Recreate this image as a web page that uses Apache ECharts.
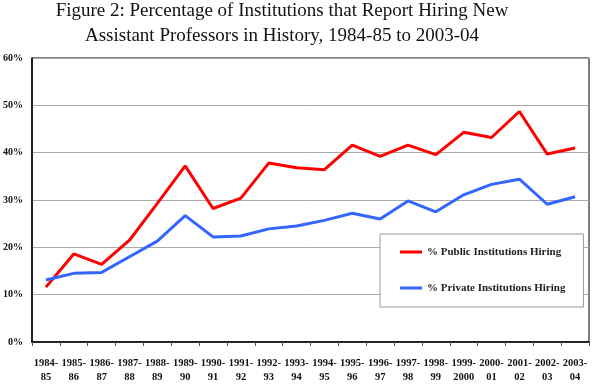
<!DOCTYPE html>
<html><head><meta charset="utf-8">
<script src="https://cdn.jsdelivr.net/npm/echarts@6/dist/echarts.min.js"></script>
<style>html,body{margin:0;padding:0;background:#fff}#c{width:600px;height:392px}</style>
</head><body><div id="c"></div>
<script>
const categories = ['1984-\n85','1985-\n86','1986-\n87','1987-\n88','1988-\n89','1989-\n90','1990-\n91','1991-\n92','1992-\n93','1993-\n94','1994-\n95','1995-\n96','1996-\n97','1997-\n98','1998-\n99','1999-\n2000','2000-\n01','2001-\n02','2002-\n03','2003-\n04'];
const publicHiring = [11.6,18.6,16.4,21.5,29.3,37.2,28.2,30.4,37.8,36.8,36.4,41.6,39.2,41.6,39.6,44.3,43.2,48.7,39.7,41.0];
const privateHiring = [13.1,14.5,14.7,18.0,21.3,26.7,22.2,22.4,23.9,24.5,25.7,27.2,26.0,29.8,27.5,31.1,33.3,34.4,29.1,30.7];
const seriesNames = ['% Public Institutions Hiring','% Private Institutions Hiring'];
const titleLines = 'Figure 2: Percentage of Institutions that Report Hiring New\nAssistant Professors in History, 1984-85 to 2003-04';

const serif = '"Liberation Serif","DejaVu Serif",serif';
const chart = echarts.init(document.getElementById('c'));
chart.setOption({
  animation:false,
  backgroundColor:'#fff',
  title:{text:titleLines,left:282,top:-1,padding:0,textAlign:'center',
    textStyle:{fontFamily:serif,fontSize:19,fontWeight:'normal',color:'#111',lineHeight:25}},
  grid:{left:32,right:11,top:58,bottom:50,show:true,borderColor:'#000',borderWidth:1,containLabel:false},
  legend:{orient:'vertical',left:380,top:234,padding:[11,18,12,20],itemGap:22,
    backgroundColor:'#fff',borderColor:'#999',borderWidth:1,
    icon:'rect',itemWidth:22,itemHeight:3,
    textStyle:{fontFamily:serif,fontSize:11,fontWeight:'bold',color:'#222',lineHeight:14},
    data:seriesNames},
  xAxis:{type:'category',data:categories,boundaryGap:true,
    axisLine:{lineStyle:{color:'#000',width:1.5}},
    axisTick:{show:true,length:4,inside:false,lineStyle:{color:'#555'}},
    axisLabel:{interval:0,fontFamily:serif,fontSize:10.5,fontWeight:'bold',color:'#111',lineHeight:14,margin:14}},
  yAxis:{type:'value',min:0,max:60,interval:10,
    axisLine:{show:true,lineStyle:{color:'#000',width:1.5}},
    axisTick:{show:false},
    splitLine:{lineStyle:{color:'#aaa',width:1}},
    axisLabel:{formatter:'{value}%',fontFamily:serif,fontSize:10,fontWeight:'bold',color:'#111',margin:9}},
  series:[
    {name:seriesNames[0],type:'line',data:publicHiring,symbol:'none',lineStyle:{color:'#ff0000',width:3},itemStyle:{color:'#ff0000'}},
    {name:seriesNames[1],type:'line',data:privateHiring,symbol:'none',lineStyle:{color:'#3366ff',width:3},itemStyle:{color:'#3366ff'}}
  ]
});
</script></body></html>
